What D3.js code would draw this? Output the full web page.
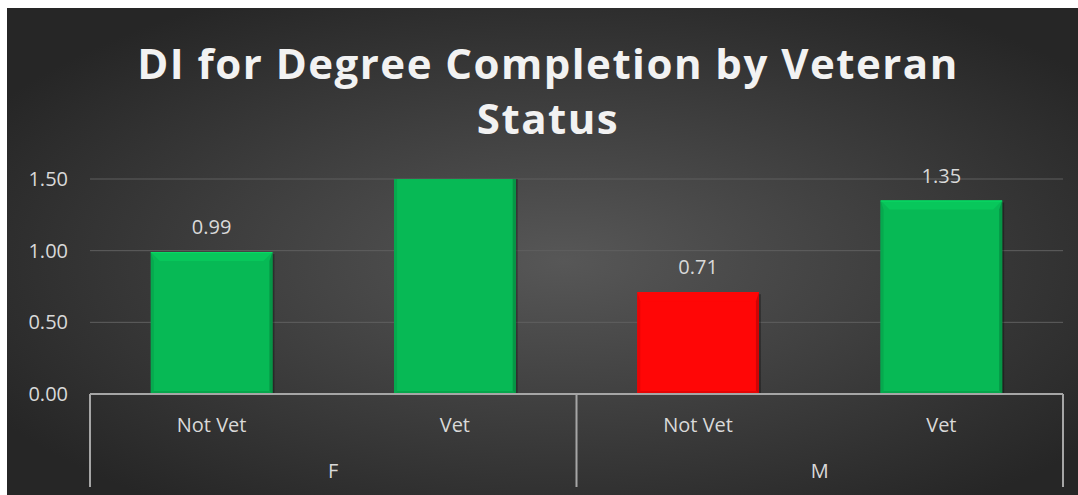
<!DOCTYPE html>
<html>
<head>
<meta charset="utf-8">
<script src="https://cdn.jsdelivr.net/npm/d3@7"></script>
<style>
  body { margin: 0; background: #fff; }
  svg text { font-family: "Open Sans", sans-serif; }
</style>
</head>
<body>
<script>
// data
var groups = ["F", "M"];
var statuses = ["Not Vet", "Vet"];
var values = [0.99, 1.62, 0.71, 1.35];
var barColors = ["#07b955", "#07b955", "#ff0606", "#07b955"];
var yTicks = [0, 0.5, 1.0, 1.5];
var titleLines = ["DI for Degree Completion by Veteran", "Status"];

var W = 1078, H = 495;
var margin = {top: 179, right: 15, bottom: 101, left: 90},
  width = W - margin.left - margin.right,
  height = H - margin.top - margin.bottom;

var svg = d3.select("body").append("svg")
  .attr("width", W)
  .attr("height", H);

var defs = svg.append("defs");
var bg = defs.append("radialGradient").attr("id", "bg")
  .attr("cx", "52%").attr("cy", "52%").attr("r", "62%");
bg.append("stop").attr("offset", "0%").attr("stop-color", "#575757");
bg.append("stop").attr("offset", "100%").attr("stop-color", "#262626");

svg.append("rect")
  .attr("x", 7).attr("y", 8)
  .attr("width", W - 7).attr("height", H - 8)
  .attr("fill", "url(#bg)");

// title, slightly letter-spaced like the original
var title = svg.append("g");
var ls = 0;
titleLines.forEach(function (t, i) {
  var txt = title.append("text")
    .attr("x", 548)
    .attr("y", 79 + i * 55)
    .attr("text-anchor", "middle")
    .attr("fill", "#f2f2f2")
    .attr("font-weight", "bold")
    .attr("font-size", 42)
    .text(t);
  if (i == 0) {
    var w = txt.node().getComputedTextLength();
    ls = Math.max(0, (820 - w) / (t.length - 1));
  }
  txt.attr("letter-spacing", ls);
});

var canvas = svg.append("g")
  .attr("transform", `translate(${margin.left},${margin.top})`);

var cats = [];
groups.forEach(function (g) {
  statuses.forEach(function (s) { cats.push(g + "|" + s); });
});

var x = d3.scaleBand()
  .domain(cats)
  .range([0, width])
  .paddingInner(0.5)
  .paddingOuter(0.25);

var y = d3.scaleLinear()
  .domain([0, 1.5])
  .range([height, 0]);

// gridlines
canvas.selectAll(".grid")
  .data(yTicks.slice(1))
  .enter().append("line")
  .attr("x1", 0).attr("x2", width)
  .attr("y1", function (d) { return y(d); })
  .attr("y2", function (d) { return y(d); })
  .attr("stroke", "#5f5f5f")
  .attr("stroke-width", 1);

// y axis labels
var yAxis = d3.axisLeft(y).tickValues(yTicks).tickFormat(d3.format(".2f")).tickSize(0).tickPadding(22);
var yg = canvas.append("g").call(yAxis);
yg.select(".domain").remove();
yg.selectAll("text").attr("fill", "#d9d9d9").attr("font-size", 20)
  .attr("font-family", "Open Sans, sans-serif");

// bars with a simple bevel look
canvas.append("clipPath").attr("id", "plotclip")
  .append("rect").attr("x", 0).attr("y", 0).attr("width", width).attr("height", height);

var bars = canvas.append("g").attr("clip-path", "url(#plotclip)");
var bevelTop = 9, bevelSide = 3, bevelBottom = 3;

cats.forEach(function (c, i) {
  var x0 = x(c), bw = x.bandwidth();
  var yTop = y(values[i]), yBot = y(0);
  var col = d3.color(barColors[i]);
  var g = bars.append("g");
  g.append("rect")
    .attr("x", x0 + 2).attr("y", yTop + 2)
    .attr("width", bw).attr("height", yBot - yTop)
    .attr("fill", "rgba(0,0,0,0.3)");
  g.append("rect")
    .attr("x", x0).attr("y", yTop)
    .attr("width", bw).attr("height", yBot - yTop)
    .attr("fill", col.formatHex());
  var x1 = x0 + bw;
  // top bevel
  g.append("polygon")
    .attr("points", [[x0, yTop], [x1, yTop], [x1 - bevelTop, yTop + bevelTop], [x0 + bevelTop, yTop + bevelTop]].join(" "))
    .attr("fill", col.brighter(0.2).formatHex());
  // left bevel
  g.append("polygon")
    .attr("points", [[x0, yTop], [x0 + bevelSide, yTop + bevelTop], [x0 + bevelSide, yBot - bevelBottom], [x0, yBot]].join(" "))
    .attr("fill", col.darker(0.25).formatHex());
  // right bevel
  g.append("polygon")
    .attr("points", [[x1, yTop], [x1 - bevelSide, yTop + bevelTop], [x1 - bevelSide, yBot - bevelBottom], [x1, yBot]].join(" "))
    .attr("fill", col.darker(0.6).formatHex());
  // bottom bevel
  g.append("polygon")
    .attr("points", [[x0, yBot], [x1, yBot], [x1 - bevelSide, yBot - bevelBottom], [x0 + bevelSide, yBot - bevelBottom]].join(" "))
    .attr("fill", col.darker(0.3).formatHex());
  g.append("line")
    .attr("x1", x0).attr("x2", x1).attr("y1", yTop + 0.5).attr("y2", yTop + 0.5)
    .attr("stroke", col.brighter(0.5).formatHex()).attr("stroke-width", 1);
});

// data labels (hidden when the bar runs past the axis max)
canvas.selectAll(".lbl")
  .data(cats)
  .enter().append("text")
  .filter(function (d, i) { return values[i] <= 1.5; })
  .attr("x", function (d) { return x(d) + x.bandwidth() / 2; })
  .attr("y", function (d) { return y(values[cats.indexOf(d)]) - 18; })
  .attr("text-anchor", "middle")
  .attr("fill", "#d9d9d9")
  .attr("font-size", 20)
  .text(function (d) { return values[cats.indexOf(d)].toFixed(2); });

// category axis: baseline, group dividers and two levels of labels
var axisCol = "#a6a6a6";
canvas.append("line")
  .attr("x1", 0).attr("x2", width)
  .attr("y1", height).attr("y2", height)
  .attr("stroke", axisCol).attr("stroke-width", 2);

var step = width / cats.length;
[0, 2, 4].forEach(function (k) {
  canvas.append("line")
    .attr("x1", k * step).attr("x2", k * step)
    .attr("y1", height).attr("y2", height + 93)
    .attr("stroke", axisCol).attr("stroke-width", 2);
});

canvas.selectAll(".cat")
  .data(cats)
  .enter().append("text")
  .attr("x", function (d) { return x(d) + x.bandwidth() / 2; })
  .attr("y", height + 38)
  .attr("text-anchor", "middle")
  .attr("fill", "#d9d9d9")
  .attr("font-size", 20)
  .text(function (d) { return d.split("|")[1]; });

canvas.selectAll(".grp")
  .data(groups)
  .enter().append("text")
  .attr("x", function (d, i) { return (i * 2 + 1) * step; })
  .attr("y", height + 84)
  .attr("text-anchor", "middle")
  .attr("fill", "#d9d9d9")
  .attr("font-size", 20)
  .text(function (d) { return d; });
</script>
</body>
</html>
